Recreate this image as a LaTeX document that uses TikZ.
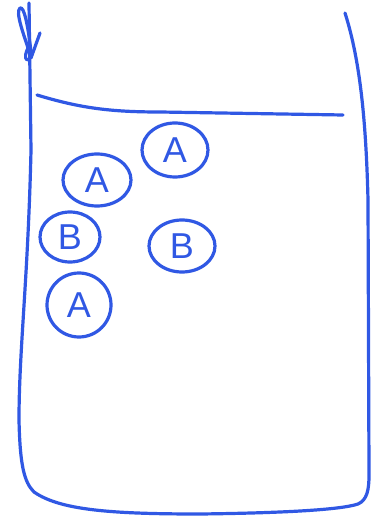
\documentclass[tikz,border=0pt]{standalone}
\usepackage{fontspec}
\setmainfont{Liberation Sans}
\usetikzlibrary{shapes.geometric,arrows.meta}
\definecolor{ink}{RGB}{48,88,228}
\tikzset{
  pen/.style={draw=ink, line width=3.2pt, line cap=round, line join=round},
  mol/.style={ellipse, pen, inner sep=0pt, text=ink, font=\fontsize{36}{36}\selectfont},
}
\begin{document}
\begin{tikzpicture}[x=1pt,y=-1pt]
\useasboundingbox[fill=white] (0,0) rectangle (378,518);
% container
\draw[pen] (29,3) -- (31,150) .. controls (28,280) and (19,350) .. (19,420)
  .. controls (20,465) and (24,482) .. (34,492)
  .. controls (60,510) and (110,514) .. (200,514)
  .. controls (280,513) and (340,510) .. (358,504)
  .. controls (367,500) and (369,490) .. (369,475)
  -- (368,200) .. controls (366,120) and (360,60) .. (345,13);
% arrow at top-left
\draw[pen] (27,60) .. controls (24,58) and (26,52) .. (28,48)
  .. controls (24,35) and (15,12) .. (20,8)
  .. controls (24,6) and (28,25) .. (31,52);
\draw[pen] (40,33) -- (31,58);
% liquid surface
\draw[pen] (37,95) .. controls (80,108) and (110,112) .. (160,112) -- (343,115);
% molecules
\node[mol, minimum width=66pt, minimum height=54pt] (a1) at (175,150) {A};
\node[mol, minimum width=68pt, minimum height=52pt] (a2) at (97,180) {A};
\node[mol, minimum width=60pt, minimum height=50pt] (b1) at (70,237) {B};
\node[mol, minimum width=66pt, minimum height=52pt] (b2) at (182,246) {B};
\node[mol, minimum width=64pt, minimum height=64pt] (a3) at (79,305) {A};
\end{tikzpicture}
\end{document}
